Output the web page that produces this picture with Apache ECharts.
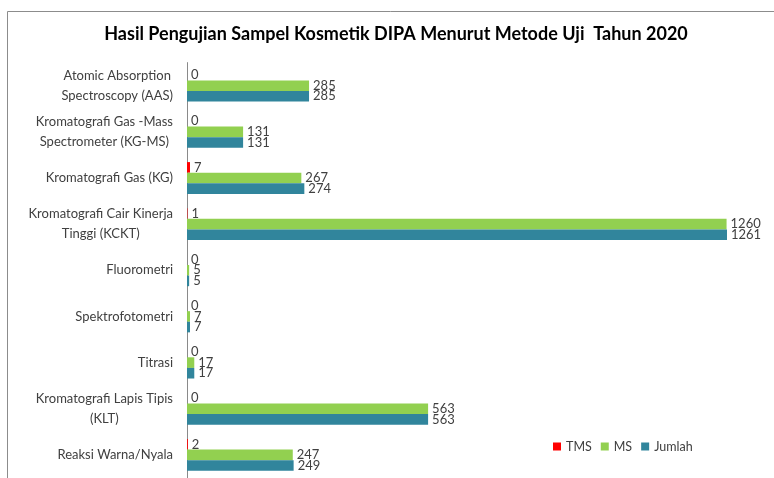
<!DOCTYPE html>
<html>
<head>
<meta charset="utf-8">
<script src="https://cdn.jsdelivr.net/npm/echarts@6/dist/echarts.min.js"></script>
<style>
  html, body { margin: 0; padding: 0; background: #fff; }
  #chart { width: 774px; height: 478px; }
</style>
</head>
<body>
<div id="chart"></div>
<script>
// kategori metode uji (urutan dari atas ke bawah)
const categories = [
  'Atomic Absorption\nSpectroscopy (AAS)',
  'Kromatografi Gas -Mass\nSpectrometer (KG-MS)',
  'Kromatografi Gas (KG)',
  'Kromatografi Cair Kinerja\nTinggi (KCKT)',
  'Fluorometri',
  'Spektrofotometri',
  'Titrasi',
  'Kromatografi Lapis Tipis\n(KLT)',
  'Reaksi Warna/Nyala'
];
const tms = [0, 0, 7, 1, 0, 0, 0, 0, 2];
const ms = [285, 131, 267, 1260, 5, 7, 17, 563, 247];
const jumlah = [285, 131, 274, 1261, 5, 7, 17, 563, 249];

const FONT = 'Lato, "Open Sans", sans-serif';
const TEXT = '#404040';

const chart = echarts.init(document.getElementById('chart'), null, { renderer: 'canvas' });

function makeSeries(name, data, color) {
  return {
    name: name,
    type: 'bar',
    data: data,
    barWidth: 10.6,
    barGap: '0%',
    itemStyle: { color: color },
    label: {
      show: true,
      position: 'right',
      distance: 4,
      color: TEXT,
      fontFamily: FONT,
      fontSize: 13
    }
  };
}

chart.setOption({
  animation: false,
  backgroundColor: '#fff',
  title: {
    text: 'Hasil Pengujian Sampel Kosmetik DIPA Menurut Metode Uji  Tahun 2020',
    left: 391,
    textAlign: 'center',
    top: 20,
    textStyle: { fontFamily: FONT, fontSize: 18, fontWeight: 'bold', color: '#000' }
  },
  legend: {
    left: 553,
    top: 440,
    padding: 0,
    itemWidth: 8,
    itemHeight: 8,
    itemGap: 9,
    icon: 'rect',
    textStyle: { fontFamily: FONT, fontSize: 12.5, color: TEXT },
    data: ['TMS', 'MS', 'Jumlah']
  },
  grid: { left: 187, top: 62.6, height: 420.75, right: 30.3, containLabel: false },
  xAxis: {
    type: 'value',
    min: 0,
    max: 1300,
    show: false
  },
  yAxis: {
    type: 'category',
    inverse: true,
    data: categories,
    axisLine: { show: true, lineStyle: { color: '#8a8a8a' } },
    axisTick: { show: false },
    splitLine: { show: false },
    axisLabel: {
      margin: 14,
      color: TEXT,
      fontFamily: FONT,
      fontSize: 13,
      lineHeight: 20,
      formatter: function (v) {
        return v.split('\n').map(function (s) { return '{c|' + s + '}'; }).join('\n');
      },
      rich: {
        c: { align: 'center', color: TEXT, fontFamily: FONT, fontSize: 13, lineHeight: 20 }
      }
    }
  },
  series: [
    makeSeries('TMS', tms, '#ff0000'),
    makeSeries('MS', ms, '#92d050'),
    makeSeries('Jumlah', jumlah, '#31859c')
  ],
  graphic: [{
    type: 'polyline',
    silent: true,
    shape: { points: [[7.5, 478], [7.5, 11.5], [774, 11.5]] },
    style: { stroke: '#8c8c8c', lineWidth: 1, fill: null }
  }]
});
</script>
</body>
</html>
